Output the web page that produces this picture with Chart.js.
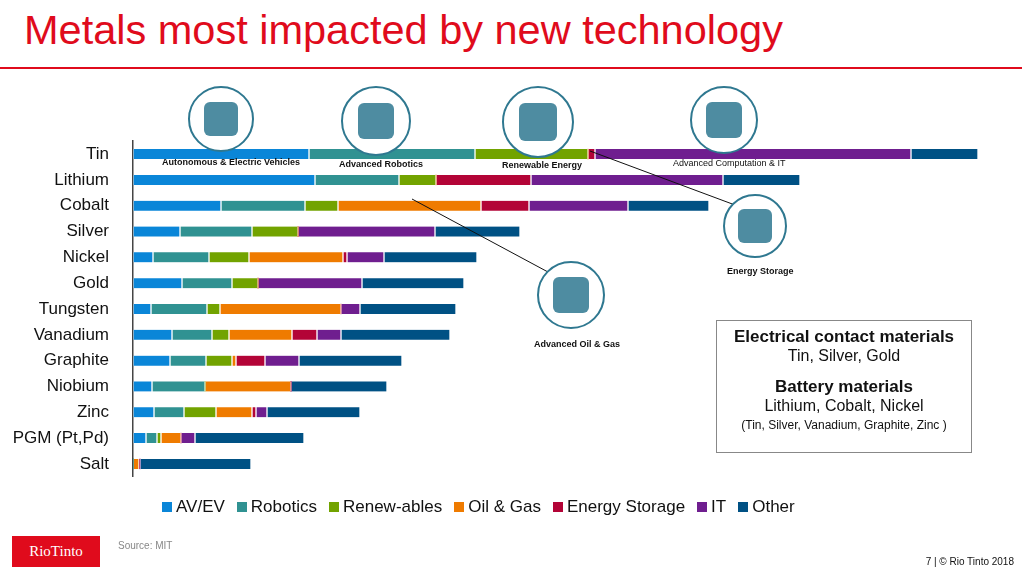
<!DOCTYPE html>
<html><head><meta charset="utf-8">
<script src="https://cdn.jsdelivr.net/npm/chart.js@4"></script>
<style>
body{margin:0;width:1022px;height:577px;background:#fff;font-family:"Liberation Sans",Arial,sans-serif;position:relative;overflow:hidden}
.abs{position:absolute}
h1{position:absolute;left:24px;top:6px;margin:0;font-weight:normal;font-size:41.5px;color:#e00b1c}
.rule{left:0;top:67px;width:1022px;height:2px;background:#e00b1c}
.ic{border:2px solid #2f7890;border-radius:50%;background:#fff;box-sizing:border-box}
.ic div{position:absolute;left:22%;top:22%;width:56%;height:56%;border-radius:6px;background:#2f7890;opacity:.85}
.cap{font-size:9px;font-weight:bold;color:#111;white-space:nowrap}
.box{left:716px;top:320px;width:256px;height:133px;border:1px solid #888;box-sizing:border-box;text-align:center;font-size:16px;color:#111}
.box b{font-size:17px}
#c{position:absolute;left:0;top:115px}
</style></head><body>
<h1>Metals most impacted by new technology</h1>
<div class="abs rule"></div>
<canvas id="c" width="1000" height="388"></canvas>
<svg class="abs" style="left:0;top:0" width="1022" height="577">
<line x1="590" y1="151" x2="735" y2="205" stroke="#111" stroke-width="1"/>
<line x1="412" y1="199" x2="548" y2="272" stroke="#111" stroke-width="1"/>
</svg>
<div class="abs ic" style="left:188px;top:86px;width:66px;height:66px"><div></div></div>
<div class="abs ic" style="left:341px;top:86px;width:70px;height:70px"><div></div></div>
<div class="abs ic" style="left:502px;top:86px;width:72px;height:72px"><div></div></div>
<div class="abs ic" style="left:690px;top:86px;width:68px;height:68px"><div></div></div>
<div class="abs ic" style="left:723px;top:194px;width:64px;height:64px"><div></div></div>
<div class="abs ic" style="left:537px;top:261px;width:68px;height:68px"><div></div></div>
<div class="abs cap" style="left:162px;top:157px">Autonomous &amp; Electric Vehicles</div>
<div class="abs cap" style="left:339px;top:159px">Advanced Robotics</div>
<div class="abs cap" style="left:502px;top:160px">Renewable Energy</div>
<div class="abs cap" style="left:673px;top:158px;font-weight:normal">Advanced Computation &amp; IT</div>
<div class="abs cap" style="left:727px;top:266px">Energy Storage</div>
<div class="abs cap" style="left:534px;top:339px">Advanced Oil &amp; Gas</div>
<div class="abs box"><div style="margin-top:6px"><b>Electrical contact materials</b></div><div>Tin, Silver, Gold</div>
<div style="margin-top:12px"><b>Battery materials</b></div><div>Lithium, Cobalt, Nickel</div><div style="font-size:12px;margin-top:3px">(Tin, Silver, Vanadium, Graphite, Zinc )</div></div>
<div class="abs" style="left:12px;top:536px;width:88px;height:31px;background:#e00b1c;color:#fff;font-family:'Liberation Serif',serif;font-size:15px;line-height:31px;text-align:center">RioTinto</div>
<div class="abs" style="left:118px;top:540px;font-size:10px;color:#888">Source: MIT</div>
<div class="abs" style="right:8px;top:556px;font-size:10px;color:#111">7 | © Rio Tinto 2018</div>
<script>
const metals = ['Tin','Lithium','Cobalt','Silver','Nickel','Gold','Tungsten','Vanadium','Graphite','Niobium','Zinc','PGM (Pt,Pd)','Salt'];
const seriesNames = ['AV/EV','Robotics','Renew-ables','Oil & Gas','Energy Storage','IT','Other'];
const colors = ['#0a86d8','#309292','#72a300','#ef7b00','#b30437','#6f1e8f','#005184'];
const avev      = [176,182,88,47,20,49,18,39,37,19,21,13,0];
const robotics  = [166,84,84,72,56,50,56,40,36,53,30,11,0];
const renew     = [113,37,33,46,40,26,13,17,26,0,32,4,0];
const oilgas    = [0,0,143,0,94,0,121,63,4,86,36,20,6];
const storage   = [7,95,48,0,4,0,0,25,29,0,4,0,1];
const it        = [316,192,99,137,37,104,19,24,34,0,11,14,0];
const other     = [67,77,81,85,93,102,96,109,103,96,93,109,111];
const series = [avev,robotics,renew,oilgas,storage,it,other];

new Chart(document.getElementById('c'), {
  type: 'bar',
  data: {
    labels: metals,
    datasets: series.map((d, i) => ({
      label: seriesNames[i], data: d, backgroundColor: colors[i],
      borderColor: 'rgba(255,255,255,0.35)', borderWidth: {left: 1, right: 1}, borderSkipped: false,
      barThickness: 10
    }))
  },
  options: {
    indexAxis: 'y', animation: false, responsive: false,
    layout: { padding: { right: 10, top: 0, bottom: 0 } },
    plugins: { legend: { display: false }, tooltip: { enabled: false } },
    scales: {
      x: { stacked: true, display: false, min: 0, max: 857 },
      y: {
        stacked: true,
        grid: { display: false },
        border: { color: '#444', width: 1.5 },
        ticks: { color: '#111', font: { size: 17, family: 'Liberation Sans, Arial' }, padding: 16 },
        afterFit(s) { s.width = 133; }
      }
    }
  }
});
</script>
<div class="abs" style="left:162px;top:497px;font-size:17px;color:#111;white-space:nowrap;display:flex;gap:12px" id="lg"></div>
<script>
document.getElementById('lg').innerHTML = seriesNames.map((n, i) =>
  '<span><span style="display:inline-block;width:10px;height:10px;background:' + colors[i] + ';margin-right:4px"></span>' + n + '</span>').join('');
</script>
</body></html>
